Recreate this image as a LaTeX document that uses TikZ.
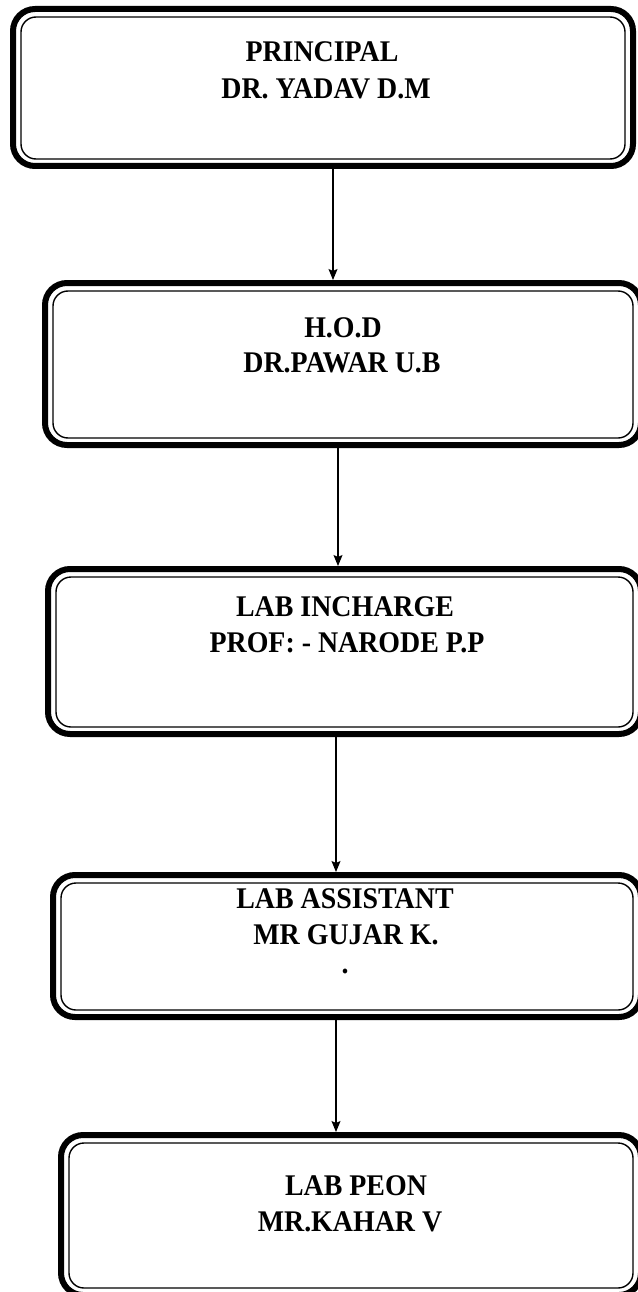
\documentclass[tikz,border=0pt]{standalone}
\usepackage{fontspec}
\setmainfont{Liberation Serif}[FakeStretch=0.93]
\usetikzlibrary{arrows.meta}
\begin{document}
\begin{tikzpicture}[x=1pt,y=1pt,
  orgbox/.style={draw=black, line width=6pt, rounded corners=22pt, minimum width=#1, inner sep=0pt},
  innerline/.style={draw=black, line width=1.4pt, rounded corners=15pt},
  lbl/.style={anchor=base, inner sep=0pt, font=\fontsize{30}{36}\selectfont\bfseries},
  arr/.style={draw=black, line width=1.1pt, -{Stealth[length=11pt,width=9pt,inset=2pt]}}
]
\useasboundingbox (0,0) rectangle (637,-1292);
% boxes
\node[orgbox=620pt, minimum height=157pt] (b1) at (323,-87.5) {};
\node[orgbox=596pt, minimum height=162pt] (b2) at (343,-364) {};
\node[orgbox=593pt, minimum height=165pt] (b3) at (344.5,-651.5) {};
\node[orgbox=588pt, minimum height=142pt] (b4) at (347,-946) {};
\node[orgbox=580pt, minimum height=160pt] (b5) at (351,-1215) {};
% inner lines
\foreach \b in {b1,b2,b3,b4,b5}{
  \draw[innerline] ([xshift=11pt,yshift=-11pt]\b.north west) rectangle ([xshift=-11pt,yshift=10pt]\b.south east);
}
% texts
\node[lbl] (t1a) at (322,-62) {PRINCIPAL};
\node[lbl] (t1b) at (326,-99) {DR. YADAV D.M};
\node[lbl] (t2a) at (343,-337) {H.O.D};
\node[lbl] (t2b) at (342,-372) {DR.PAWAR U.B};
\node[lbl] (t3a) at (345,-616) {LAB INCHARGE};
\node[lbl] (t3b) at (347,-652) {PROF: - NARODE P.P};
\node[lbl] (t4a) at (345,-908) {LAB ASSISTANT};
\node[lbl] (t4b) at (346,-944) {MR GUJAR K.};
\node[lbl] (t4c) at (345,-973) {.};
\node[lbl] (t5a) at (356,-1195) {LAB PEON};
\node[lbl] (t5b) at (350,-1231) {MR.KAHAR V};
% connector columns
\coordinate (x1) at (333,0);
\coordinate (x2) at (338,0);
\coordinate (x3) at (336,0);
\coordinate (x4) at (336,0);
\draw[arr] (b1.south -| x1) -- (b2.north -| x1);
\draw[arr] (b2.south -| x2) -- (b3.north -| x2);
\draw[arr] (b3.south -| x3) -- (b4.north -| x3);
\draw[arr] (b4.south -| x4) -- (b5.north -| x4);
\end{tikzpicture}
\end{document}
